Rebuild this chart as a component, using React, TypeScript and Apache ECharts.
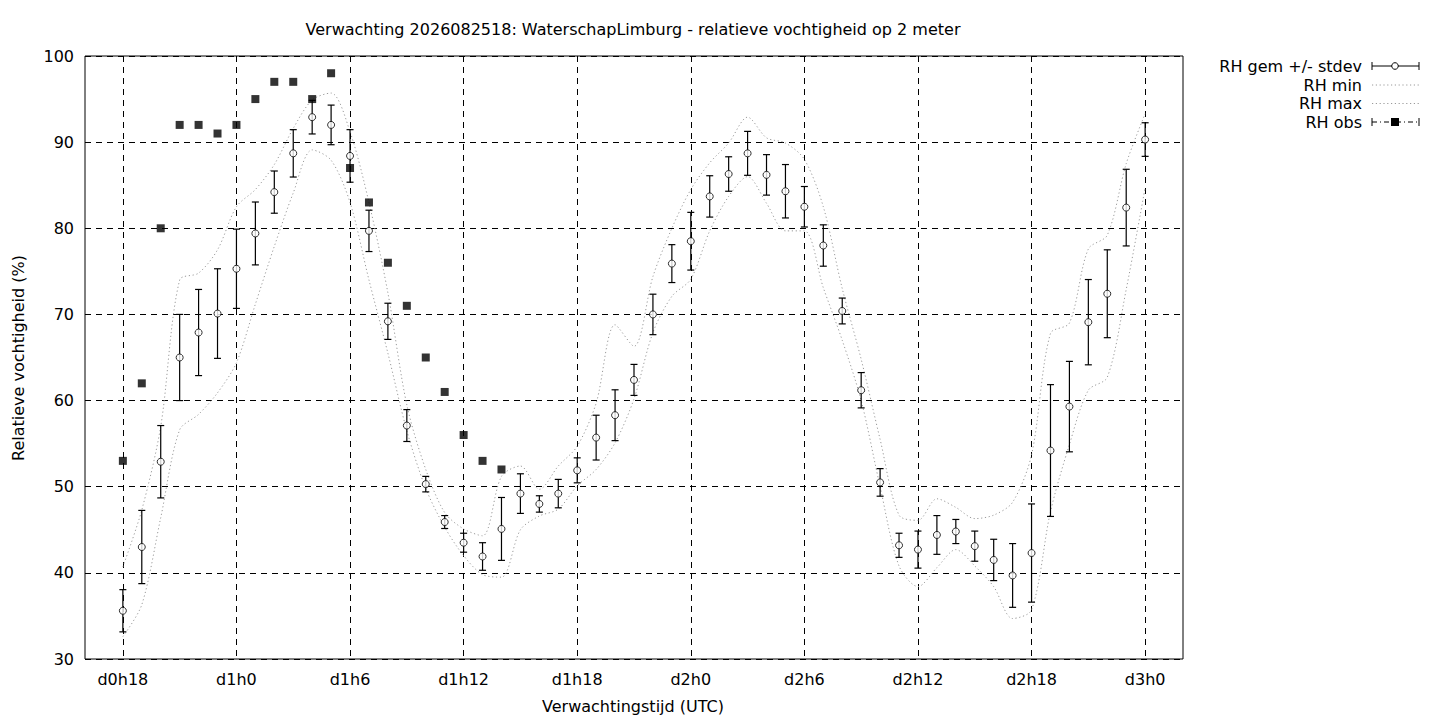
import React, { useEffect, useRef } from "react";
import * as echarts from "echarts";

// ---- data ----
const hours = [
  18, 19, 20, 21, 22, 23, 24, 25, 26, 27, 28, 29, 30, 31, 32, 33, 34, 35, 36, 37,
  38, 39, 40, 41, 42, 43, 44, 45, 46, 47, 48, 49, 50, 51, 52, 53, 54, 55, 56, 57,
  58, 59, 60, 61, 62, 63, 64, 65, 66, 67, 68, 69, 70, 71, 72,
];

const rhMean = [
  35.6, 43.0, 52.9, 65.0, 67.9, 70.1, 75.3, 79.4, 84.2, 88.7, 92.9, 92.0, 88.4, 79.7, 69.2, 57.1, 50.3, 45.9, 43.5, 41.9,
  45.1, 49.2, 48.0, 49.2, 51.9, 55.7, 58.3, 62.4, 70.0, 75.9, 78.5, 83.7, 86.3, 88.7, 86.2, 84.3, 82.5, 78.0, 70.4, 61.2,
  50.5, 43.2, 42.7, 44.4, 44.8, 43.1, 41.5, 39.7, 42.3, 54.2, 59.3, 69.1, 72.4, 82.4, 90.3,
];

const rhStdev = [
  2.45, 4.25, 4.2, 5.0, 5.0, 5.2, 4.6, 3.65, 2.45, 2.75, 1.95, 2.3, 3.05, 2.4, 2.1, 1.85, 0.9, 0.75, 1.1, 1.6,
  3.65, 2.3, 0.95, 1.65, 1.45, 2.6, 2.95, 1.8, 2.35, 2.2, 3.35, 2.4, 2.0, 2.55, 2.35, 3.1, 2.35, 2.4, 1.5, 2.05,
  1.6, 1.4, 2.15, 2.25, 1.4, 1.75, 2.4, 3.7, 5.7, 7.65, 5.25, 4.95, 5.1, 4.45, 1.95,
];

const rhMin = [
  32.6, 36.3, 46.4, 56.6, 58.4, 60.9, 64.4, 71.2, 77.9, 84.1, 89.1, 87.9, 83.0, 74.0, 65.5, 56.5, 49.8, 45.3, 42.0, 39.8,
  39.5, 45.0, 46.6, 47.4, 50.1, 52.0, 55.1, 60.2, 67.9, 72.1, 74.1, 79.7, 83.7, 86.0, 82.9, 79.7, 79.7, 73.1, 67.0, 60.0,
  50.0, 40.8, 38.4, 40.6, 42.7, 40.8, 38.4, 34.7, 35.7, 47.1, 54.9, 61.2, 62.7, 72.9, 84.7,
];

const rhMax = [
  40.7, 47.3, 57.0, 74.0, 74.8, 77.5, 82.5, 84.5, 87.4, 91.6, 94.9, 95.7, 91.2, 83.0, 72.5, 59.5, 52.0, 47.0, 45.1, 44.3,
  51.2, 52.4, 49.7, 52.4, 54.7, 59.7, 68.8, 66.3, 74.4, 80.0, 84.5, 87.6, 89.9, 92.9, 90.5, 89.9, 88.0, 82.5, 73.0, 64.8,
  55.5, 46.7, 46.1, 48.6, 47.6, 46.3, 46.7, 48.2, 53.7, 67.8, 69.0, 77.6, 79.2, 87.5, 93.3,
];

const obsHours = [18, 19, 20, 21, 22, 23, 24, 25, 26, 27, 28, 29, 30, 31, 32, 33, 34, 35, 36, 37, 38];
const rhObs = [53, 62, 80, 92, 92, 91, 92, 95, 97, 97, 95, 98, 87, 83, 76, 71, 65, 61, 56, 53, 52];

const xTickHours = [18, 24, 30, 36, 42, 48, 54, 60, 66, 72];
const xTickLabels = ["d0h18", "d1h0", "d1h6", "d1h12", "d1h18", "d2h0", "d2h6", "d2h12", "d2h18", "d3h0"];

const legendNames = ["RH gem +/- stdev", "RH min", "RH max", "RH obs"];

const titleText = "Verwachting 2026082518: WaterschapLimburg - relatieve vochtigheid op 2 meter";
const xTitle = "Verwachtingstijd (UTC)";
const yTitle = "Relatieve vochtigheid (%)";

const FONT = "DejaVu Sans";
const FS = 16;

export default function App() {
  const ref = useRef<HTMLDivElement | null>(null);

  useEffect(() => {
    if (!ref.current) return;
    const chart = echarts.init(ref.current, undefined, { renderer: "svg" });

    const errData = hours.map((h, i) => [h, rhMean[i] - rhStdev[i], rhMean[i] + rhStdev[i]]);
    const meanData = hours.map((h, i) => [h, rhMean[i]]);
    const minData = hours.map((h, i) => [h, rhMin[i]]);
    const maxData = hours.map((h, i) => [h, rhMax[i]]);
    const obsData = obsHours.map((h, i) => [h, rhObs[i]]);

    const dotted = { color: "#9a9a9a", width: 1, type: [1.2, 2.6] as any };

    // legend graphics
    const lx1 = 1372, lx2 = 1419, lmid = 1395, ltext = 1362;
    const rows = [66, 85, 103.5, 122];
    const blk = { stroke: "#000", lineWidth: 1 };
    const legendEls: any[] = [];
    legendNames.forEach((name, i) => {
      legendEls.push({
        type: "text", x: ltext, y: rows[i],
        style: { text: name, fill: "#000", font: `${FS}px '${FONT}'`, textAlign: "right", textVerticalAlign: "middle" },
      });
    });
    legendEls.push({ type: "line", shape: { x1: lx1, y1: rows[0], x2: lx2, y2: rows[0] }, style: blk });
    legendEls.push({ type: "line", shape: { x1: lx1, y1: rows[0] - 4, x2: lx1, y2: rows[0] + 4 }, style: blk });
    legendEls.push({ type: "line", shape: { x1: lx2, y1: rows[0] - 4, x2: lx2, y2: rows[0] + 4 }, style: blk });
    legendEls.push({ type: "circle", shape: { cx: lmid, cy: rows[0], r: 3.3 }, style: { fill: "#fff", stroke: "#000", lineWidth: 1 } });
    [1, 2].forEach((r) => {
      legendEls.push({
        type: "line", shape: { x1: lx1, y1: rows[r], x2: lx2, y2: rows[r] },
        style: { stroke: "#9a9a9a", lineWidth: 1, lineDash: [1.2, 2.6] },
      });
    });
    legendEls.push({ type: "line", shape: { x1: lx1, y1: rows[3], x2: lx2, y2: rows[3] }, style: { stroke: "#000", lineWidth: 1, lineDash: [5, 3, 1, 3] } });
    legendEls.push({ type: "line", shape: { x1: lx1, y1: rows[3] - 4, x2: lx1, y2: rows[3] + 4 }, style: blk });
    legendEls.push({ type: "line", shape: { x1: lx2, y1: rows[3] - 4, x2: lx2, y2: rows[3] + 4 }, style: blk });
    legendEls.push({ type: "rect", shape: { x: lmid - 4, y: rows[3] - 4, width: 8, height: 8 }, style: { fill: "#000" } });

    const option: any = {
      animation: false,
      backgroundColor: "#fff",
      textStyle: { fontFamily: FONT },
      grid: {
        left: 85, right: 257, top: 56, bottom: 61,
        show: true, borderColor: "#000", borderWidth: 1, backgroundColor: "transparent",
        containLabel: false, outerBoundsMode: "none",
      },
      xAxis: {
        type: "value", min: 16, max: 74,
        axisLine: { show: false },
        axisTick: { show: false, customValues: xTickHours },
        axisLabel: {
          customValues: xTickHours,
          color: "#000", fontSize: FS, fontFamily: FONT, margin: 12,
          formatter: (v: number) => {
            const k = xTickHours.indexOf(v);
            return k >= 0 ? xTickLabels[k] : "";
          },
        },
        splitLine: { show: true, lineStyle: { color: "#000", width: 1, type: [6, 5] } },
      },
      yAxis: {
        type: "value", min: 30, max: 100, interval: 10,
        axisLine: { show: false },
        axisTick: { show: false },
        axisLabel: { color: "#000", fontSize: FS, fontFamily: FONT, margin: 11 },
        splitLine: { show: true, lineStyle: { color: "#000", width: 1, type: [6, 5] } },
      },
      graphic: [
        {
          type: "text", x: 633, y: 29,
          style: { text: titleText, fill: "#000", font: `${FS}px '${FONT}'`, textAlign: "center", textVerticalAlign: "middle" },
        },
        {
          type: "text", x: 633, y: 706,
          style: { text: xTitle, fill: "#000", font: `${FS}px '${FONT}'`, textAlign: "center", textVerticalAlign: "middle" },
        },
        {
          type: "text", x: 18, y: 358, rotation: Math.PI / 2,
          style: { text: yTitle, fill: "#000", font: `${FS}px '${FONT}'`, textAlign: "center", textVerticalAlign: "middle" },
        },
        ...legendEls,
      ],
      series: [
        {
          name: "RH min", type: "line", data: minData, smooth: 0.3, showSymbol: false, symbol: "none",
          lineStyle: dotted, z: 1,
        },
        {
          name: "RH max", type: "line", data: maxData, smooth: 0.3, showSymbol: false, symbol: "none",
          lineStyle: dotted, z: 1,
        },
        {
          name: "RH gem +/- stdev", type: "custom", data: errData, z: 2,
          encode: { x: 0, y: [1, 2] },
          renderItem: (params: any, api: any) => {
            const x = api.value(0);
            const lo = api.coord([x, api.value(1)]);
            const hi = api.coord([x, api.value(2)]);
            const hw = 3.5;
            const st = { stroke: "#000", lineWidth: 1.2 };
            return {
              type: "group",
              children: [
                { type: "line", shape: { x1: lo[0], y1: lo[1], x2: hi[0], y2: hi[1] }, style: st },
                { type: "line", shape: { x1: lo[0] - hw, y1: lo[1], x2: lo[0] + hw, y2: lo[1] }, style: st },
                { type: "line", shape: { x1: hi[0] - hw, y1: hi[1], x2: hi[0] + hw, y2: hi[1] }, style: st },
              ],
            };
          },
        },
        {
          name: "RH gem", type: "scatter", data: meanData, symbol: "circle", symbolSize: 7, z: 3,
          itemStyle: { color: "#fff", borderColor: "#000", borderWidth: 1 },
        },
        {
          name: "RH obs", type: "scatter", data: obsData, symbol: "rect", symbolSize: 8, z: 4,
          itemStyle: { color: "#000" },
        },
      ],
    };

    chart.setOption(option);
    return () => chart.dispose();
  }, []);

  return <div ref={ref} style={{ position: "absolute", left: 0, top: 0, width: 1440, height: 720 }} />;
}
